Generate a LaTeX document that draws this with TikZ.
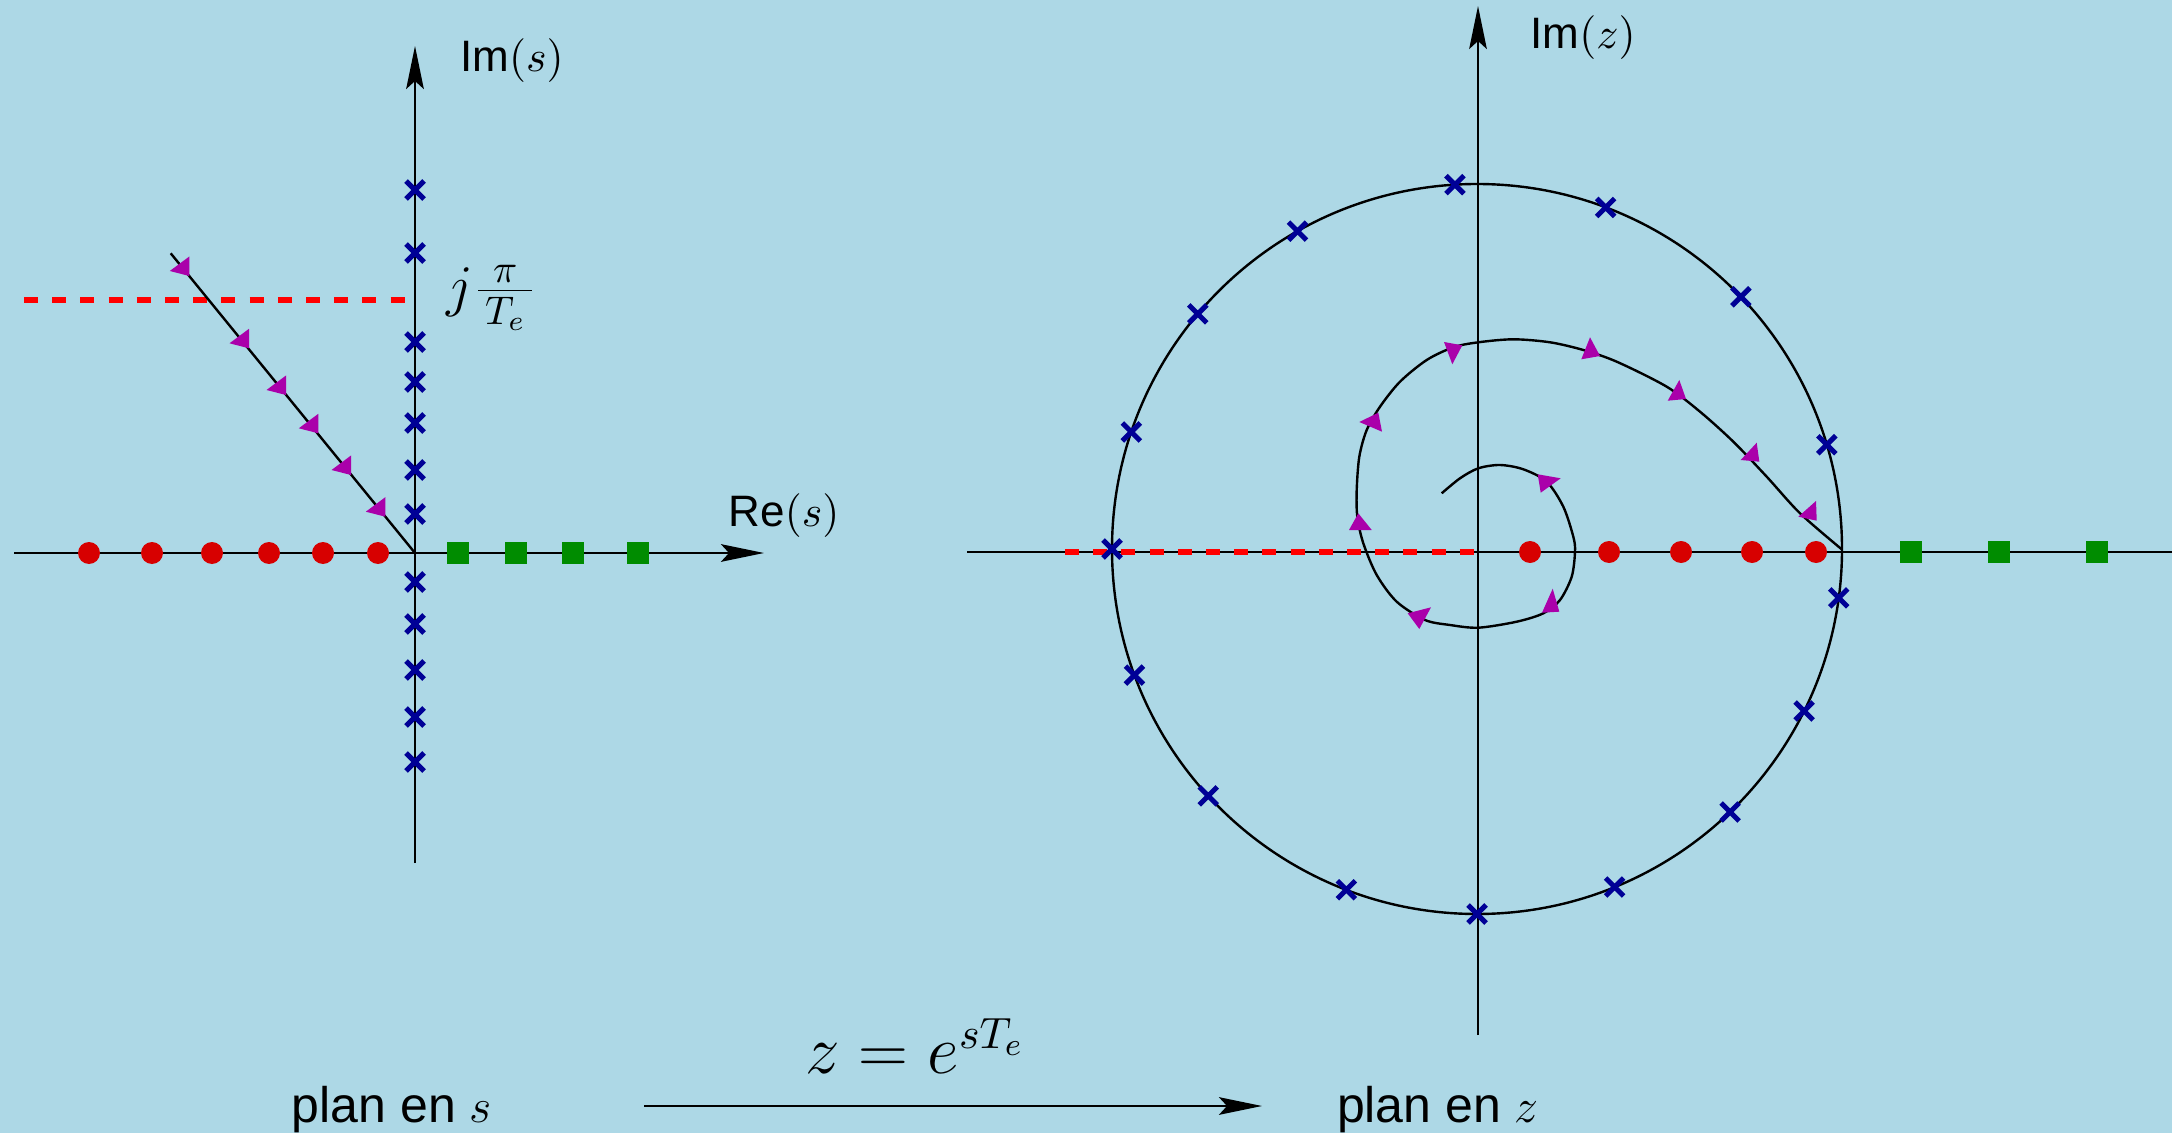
\documentclass[tikz,border=0pt]{standalone}
\usepackage{fontspec}
\setmainfont{Liberation Sans}
\usetikzlibrary{arrows.meta}
\definecolor{bgblue}{RGB}{173,216,230}
\definecolor{dotred}{RGB}{215,0,0}
\definecolor{dashred}{RGB}{255,0,0}
\definecolor{xblue}{RGB}{0,0,150}
\definecolor{sqgreen}{RGB}{0,140,0}
\definecolor{mag}{RGB}{170,0,170}
\begin{document}
\begin{tikzpicture}[x=0.25pt, y=-0.25pt,
  axisline/.style={line width=0.6pt, black},
  arrowtip/.style={-{Stealth[length=10.75pt,width=4.4pt,inset=2pt]}},
  dashline/.style={dashred, line width=1.3pt, dash pattern=on 3.5pt off 3.55pt},
  lbl/.style={inner sep=0pt, font=\fontsize{11}{13}\selectfont},
  bottomlbl/.style={inner sep=0pt, anchor=base, font=\fontsize{12.5}{15}\selectfont},
  xmk/.pic={\draw[xblue, line width=1.25pt] (-9,-9) -- (9,9) (-9,9) -- (9,-9);},
  rdot/.pic={\fill[dotred] (0,0) circle[radius=2.75pt];},
  gsq/.pic={\fill[sqgreen] (-11,-11) rectangle (11,11);},
  stri/.pic={\fill[mag] (0,0) -- (0,-19.5) -- (-19.5,-5) -- cycle;},
  ztri/.style={fill=mag}]
\fill[bgblue] (0,0) rectangle (2172,1133);
\useasboundingbox (0,0) rectangle (2172,1133);

% ---------------- s-plane ----------------
\coordinate (so) at (415,553);
\coordinate (sxl) at (14,553);
\coordinate (sxr) at (764,553);
\coordinate (syb) at (415,863);
\coordinate (syt) at (415,46);
\coordinate (dl) at (170.7,253.3);
\draw[dashline] (24,300) -- (406,300);
\draw[axisline, arrowtip] (sxl) -- (sxr);
\draw[axisline, arrowtip] (syb) -- (syt);
\draw[axisline] (dl) -- (so);
\foreach \y in {190,253,342,382,423,470,514,582,624,670,717,762}
  \pic at (415,\y) {xmk};
\foreach \x in {89,152,212,269,323,378}
  \pic at (\x,553) {rdot};
\foreach \x in {458,516,573,638}
  \pic at (\x,553) {gsq};
\foreach \p in {(189.3,276),(249,348.3),(286,395),(318.3,433.3),(351,475),(385.3,516.7)}
  \pic at \p {stri};

\node[lbl] (ims) at (512,61) {Im$(s)$};
\node[lbl] (res) at (784,516) {Re$(s)$};
\node[inner sep=0pt, font=\fontsize{14}{16}\selectfont] (jpi) at (492,298) {$j\frac{\,\pi\,}{\,T_e\,}$};

% ---------------- z-plane ----------------
\coordinate (zo) at (1478,552);
\coordinate (zc) at (1477,549);
\coordinate (zxl) at (967,552);
\coordinate (zxr) at (2172,552);
\coordinate (zyb) at (1478,1035);
\coordinate (zyt) at (1478,6);
\draw[axisline] (zxl) -- (zxr);
\draw[axisline, arrowtip] (zyb) -- (zyt);
\draw[dashline] (1065,552) -- (1475,552);
\draw[axisline] (zc) circle[radius=91.25pt];
\draw[axisline] plot[smooth, tension=0.5] coordinates {
 (1441.7,493.3) (1460,478.3) (1478.3,468.3) (1500,465) (1523.3,469.3)
 (1546.7,481.7) (1563.3,506.7) (1573.3,536.7) (1575,551.7) (1571.7,576.7)
 (1560,600) (1543.3,613.3) (1516.7,621.7) (1478.3,627.7) (1450,625)
 (1425,620) (1396.7,601.7) (1376.7,575) (1363.3,543.3) (1357.3,516.7)
 (1356.7,490) (1359.3,456.7) (1366.7,430) (1380,406.7) (1400,381.7)
 (1426.7,360) (1453.3,347.3) (1478.3,342.3) (1513.3,339.3) (1550,342.3)
 (1583.3,350) (1616.7,361.7) (1666.7,386.7) (1700,411.7) (1733.3,441.7)
 (1766.7,476.7) (1800,513.3) (1841.7,549.3)};
\foreach \a in {-93.47,-69.36,-43.7,-16.6,7.7,26.35,46.1,67.85,90,110.98,137.44,159.8,180,-161.3,-139.9,-119.46}
  \pic at ([shift={(\a:365)}]zc) {xmk};
\foreach \x in {1530,1609,1681,1752,1816}
  \pic at (\x,552) {rdot};
\foreach \x in {1911,1999,2097}
  \pic at (\x,552) {gsq};
\fill[ztri] (1444,342) -- (1462.3,345.3) -- (1452.3,364.3) -- cycle;
\fill[ztri] (1590,337.3) -- (1581.3,359.3) -- (1600,356) -- cycle;
\fill[ztri] (1359.3,422) -- (1378.3,412.7) -- (1382,431.7) -- cycle;
\fill[ztri] (1358.3,513.3) -- (1349,530) -- (1371.7,530) -- cycle;
\fill[ztri] (1407.7,613.3) -- (1431,607.3) -- (1419.3,629) -- cycle;
\fill[ztri] (1552.7,588.7) -- (1542,612.7) -- (1559.3,611.7) -- cycle;
\fill[ztri] (1537.7,474.3) -- (1560.7,478.3) -- (1540.7,492.7) -- cycle;
\fill[ztri] (1679.3,380) -- (1667.7,400.7) -- (1686,399) -- cycle;
\fill[ztri] (1756.7,442.7) -- (1740.7,460) -- (1759.3,461.7) -- cycle;
\fill[ztri] (1816,501) -- (1798.3,516.7) -- (1816.7,520.7) -- cycle;

\node[lbl] (imz) at (1583,38) {Im$(z)$};

% ---------------- bottom ----------------
\coordinate (arrS) at (644,1106);
\coordinate (arrE) at (1262,1106);
\draw[axisline, arrowtip] (arrS) -- (arrE);
\node[inner sep=0pt, font=\fontsize{16}{19}\selectfont] (map) at (915,1046) {$z=e^{sT_e}$};
\node[bottomlbl] (pls) at (392,1122) {plan en $s$};
\node[bottomlbl] (plz) at (1438,1122) {plan en $z$};
\end{tikzpicture}
\end{document}
